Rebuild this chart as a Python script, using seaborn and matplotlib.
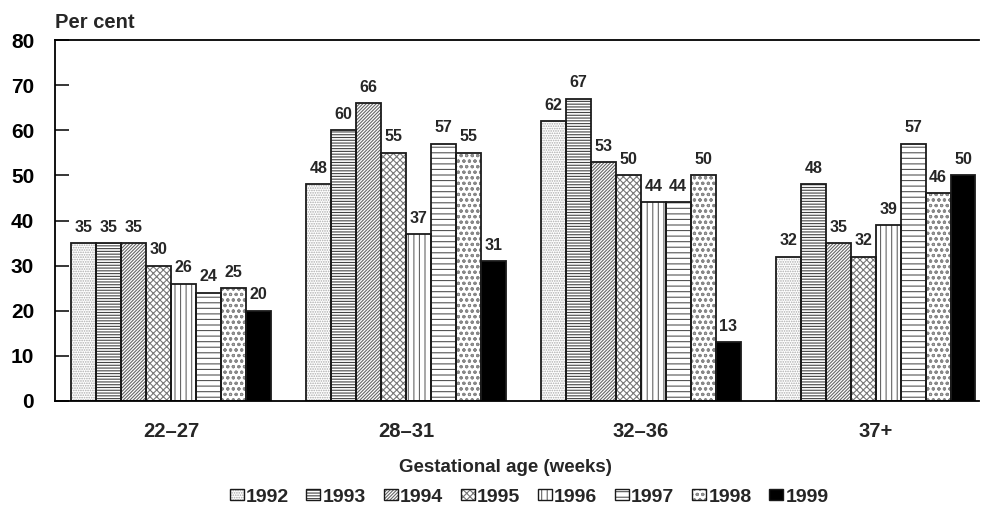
import pandas as pd
import seaborn as sns
import matplotlib
matplotlib.use("Agg")
import matplotlib.pyplot as plt
from matplotlib.patches import Rectangle, Patch

# Gestational age groups (x categories) and survey years (hue)
age_groups = ["22–27", "28–31", "32–36", "37+"]
years = ["1992", "1993", "1994", "1995", "1996", "1997", "1998", "1999"]

# Per cent, one list per year, in the order of age_groups
pct_1992 = [35, 48, 62, 32]
pct_1993 = [35, 60, 67, 48]
pct_1994 = [35, 66, 53, 35]
pct_1995 = [30, 55, 50, 32]
pct_1996 = [26, 37, 44, 39]
pct_1997 = [24, 57, 44, 57]
pct_1998 = [25, 55, 50, 46]
pct_1999 = [20, 31, 13, 50]

yticks = [0, 10, 20, 30, 40, 50, 60, 70, 80]

series = [pct_1992, pct_1993, pct_1994, pct_1995,
          pct_1996, pct_1997, pct_1998, pct_1999]
df = pd.DataFrame(
    [(g, y, v) for y, vals in zip(years, series) for g, v in zip(age_groups, vals)],
    columns=["age", "year", "pct"],
)

# fill pattern, hatch colour and face colour for each year
hatches = [".......", "------", "//////////", "xxxxx", "|||", "---", "ooo", ""]
hatch_colors = ["#aaaaaa", "#444444", "#666666", "#777777",
                "#666666", "#555555", "#888888", "#000000"]
face_colors = ["white"] * 7 + ["black"]
outline = "#1a1a1a"

sns.set_style("white")
plt.rcParams["font.family"] = ["Liberation Sans", "DejaVu Sans"]
plt.rcParams["font.weight"] = "bold"
plt.rcParams["hatch.linewidth"] = 0.8

fig = plt.figure(figsize=(9.81, 5.12), dpi=100)
ax = fig.add_axes([55 / 981, 1 - 401 / 512, 924 / 981, 361 / 512])

sns.barplot(
    data=df, x="age", y="pct", hue="year",
    order=age_groups, hue_order=years,
    palette=dict(zip(years, face_colors)),
    saturation=1, width=0.85, gap=0, linewidth=0,
    legend=False, ax=ax,
)

for cont, h, hc in zip(ax.containers, hatches, hatch_colors):
    for bar in cont:
        bar.set_hatch(h)
        bar.set_edgecolor(hc)
        bar.set_linewidth(0)
        ax.add_patch(Rectangle(bar.get_xy(), bar.get_width(), bar.get_height(),
                               fill=False, edgecolor=outline, linewidth=1.3,
                               zorder=bar.get_zorder() + 0.1))
    ax.bar_label(cont, fmt="%d", padding=6, fontsize=11.5, fontweight="bold")

ax.set_ylim(0, 80)
ax.set_xlim(-0.494, 3.44)
ax.set_yticks(yticks)
ax.set_yticklabels([str(t) for t in yticks], fontsize=15, fontweight="bold")
ax.tick_params(axis="y", direction="in", length=10, width=1.1, pad=15,
               left=True, colors="black")
ax.tick_params(axis="x", length=0, pad=15, labelsize=14.5)
for lab in ax.get_xticklabels():
    lab.set_fontweight("bold")
ax.set_xlabel("")
ax.set_ylabel("")

for side in ["left", "top", "bottom"]:
    ax.spines[side].set_visible(True)
    ax.spines[side].set_color("black")
    ax.spines[side].set_linewidth(1.3)
ax.spines["right"].set_visible(False)

fig.text(55 / 981, 1 - 28 / 512, "Per cent", fontsize=14.5, fontweight="bold",
         ha="left", va="baseline")
fig.text(505 / 981, 1 - 468 / 512, "Gestational age (weeks)", fontsize=13.5,
         fontweight="bold", ha="center", va="center")

handles = [
    (Patch(facecolor=fc, edgecolor=hc, hatch=h, linewidth=0),
     Patch(fill=False, edgecolor=outline, linewidth=1.0))
    for fc, hc, h in zip(face_colors, hatch_colors, hatches)
]
leg = fig.legend(
    handles, years, loc="center", bbox_to_anchor=(529 / 981, 1 - 497 / 512),
    ncol=8, frameon=False, prop={"size": 14, "weight": "bold"},
    handlelength=0.72, handleheight=0.55, handletextpad=0.12,
    columnspacing=0.9, borderaxespad=0,
)

fig.savefig("out.png", dpi=100)
